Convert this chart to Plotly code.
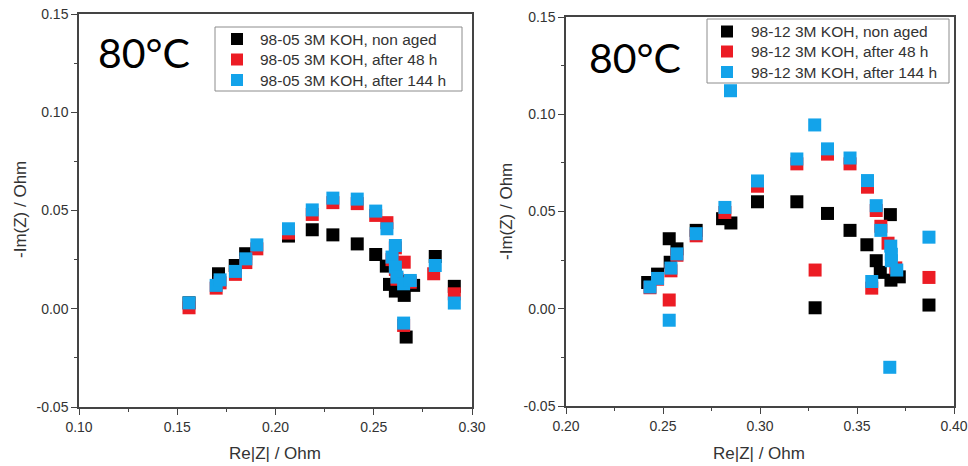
import plotly.graph_objects as go

# ---- Sample 98-05, 3M KOH at 80 °C ----
a_black_re = [0.156, 0.171, 0.1795, 0.1848, 0.2066, 0.2187, 0.2292, 0.2416, 0.251, 0.2564,
              0.258, 0.261, 0.2625, 0.2655, 0.2665, 0.2703, 0.2813, 0.291]
a_black_im = [0.003, 0.0178, 0.022, 0.028, 0.037, 0.0402, 0.0376, 0.033, 0.0276, 0.0217,
              0.0124, 0.009, 0.014, 0.0068, -0.0144, 0.0119, 0.0266, 0.0114]

a_red_re = [0.156, 0.1698, 0.1718, 0.1796, 0.1849, 0.1905, 0.2066, 0.2187, 0.2292, 0.2416,
            0.251, 0.2567, 0.261, 0.2593, 0.261, 0.2618, 0.2655, 0.2686, 0.2652, 0.2805, 0.291]
a_red_im = [0.0005, 0.0105, 0.0132, 0.0175, 0.0235, 0.0305, 0.0385, 0.048, 0.054, 0.0535,
            0.0475, 0.0438, 0.031, 0.025, 0.02, 0.015, 0.0237, 0.0135, -0.0085, 0.0178, 0.0076]

a_blue_re = [0.156, 0.1698, 0.1718, 0.1796, 0.1849, 0.1905, 0.2066, 0.2187, 0.2292, 0.2416,
             0.251, 0.2567, 0.261, 0.2593, 0.261, 0.2618, 0.2652, 0.2686, 0.2652, 0.2813, 0.291]
a_blue_im = [0.003, 0.0119, 0.0147, 0.019, 0.0254, 0.0325, 0.0407, 0.0503, 0.0563, 0.0558,
             0.0497, 0.0407, 0.0322, 0.0263, 0.0212, 0.0161, 0.0127, 0.0144, -0.0073, 0.022, 0.0029]

# ---- Sample 98-12, 3M KOH at 80 °C ----
b_black_re = [0.2421, 0.2472, 0.2532, 0.2572, 0.2537, 0.2671, 0.2807, 0.285, 0.2987, 0.319,
              0.3348, 0.3464, 0.3551, 0.3599, 0.362, 0.3672, 0.3675, 0.3718, 0.3284, 0.3871]
b_black_im = [0.0135, 0.0178, 0.036, 0.0308, 0.0239, 0.0403, 0.0463, 0.0441, 0.055, 0.055,
              0.049, 0.0403, 0.0329, 0.0247, 0.0187, 0.0484, 0.0147, 0.0164, 0.0005, 0.0019]

b_red_re = [0.2433, 0.2472, 0.2541, 0.2572, 0.2532, 0.2671, 0.2819, 0.2987, 0.319, 0.3348,
            0.3464, 0.3554, 0.3599, 0.3623, 0.366, 0.37, 0.3284, 0.3576, 0.3871]
b_red_im = [0.0108, 0.0152, 0.0195, 0.0275, 0.0045, 0.0375, 0.0495, 0.063, 0.0745, 0.0795,
            0.0745, 0.0625, 0.0505, 0.0424, 0.0337, 0.021, 0.0199, 0.0106, 0.0161]

b_blue_re = [0.2433, 0.2472, 0.2541, 0.2572, 0.2532, 0.2671, 0.2819, 0.2848, 0.2987, 0.319,
             0.3282, 0.3348, 0.3464, 0.3554, 0.3599, 0.3623, 0.3674, 0.3677, 0.3677, 0.3705,
             0.3576, 0.3669, 0.3871]
b_blue_im = [0.0112, 0.0156, 0.0209, 0.0282, -0.0059, 0.0386, 0.0521, 0.1121, 0.0657, 0.077,
             0.0945, 0.0822, 0.0775, 0.0659, 0.053, 0.0403, 0.0322, 0.028, 0.0247, 0.0199,
             0.014, -0.0301, 0.0368]

y_ticks = [-0.05, 0.00, 0.05, 0.10, 0.15]
y_ticklabels = ["-0.05", "0.00", "0.05", "0.10", "0.15"]
xa_ticks = [0.10, 0.15, 0.20, 0.25, 0.30]
xa_ticklabels = ["0.10", "0.15", "0.20", "0.25", "0.30"]
xb_ticks = [0.20, 0.25, 0.30, 0.35, 0.40]
xb_ticklabels = ["0.20", "0.25", "0.30", "0.35", "0.40"]

a_names = ["98-05 3M KOH, non aged", "98-05 3M KOH, after 48 h", "98-05 3M KOH, after 144 h"]
b_names = ["98-12 3M KOH, non aged", "98-12 3M KOH, after 48 h", "98-12 3M KOH, after 144 h"]

BLACK = "#000000"
RED = "#ec1c24"
BLUE = "#13a3ea"
COLORS = [BLACK, RED, BLUE]

W, H = 968, 466


def px(x):
    return x / W


def py(y):
    return 1 - y / H


fig = go.Figure()


def add_series(x, y, color, name, xaxis, yaxis):
    fig.add_trace(go.Scatter(
        x=x, y=y, mode="markers", name=name, showlegend=False,
        marker=dict(symbol="square", size=13, color=color, line=dict(width=0)),
        xaxis=xaxis, yaxis=yaxis,
    ))


add_series(a_black_re, a_black_im, BLACK, a_names[0], "x", "y")
add_series(a_red_re, a_red_im, RED, a_names[1], "x", "y")
add_series(a_blue_re, a_blue_im, BLUE, a_names[2], "x", "y")
add_series(b_black_re, b_black_im, BLACK, b_names[0], "x2", "y2")
add_series(b_red_re, b_red_im, RED, b_names[1], "x2", "y2")
add_series(b_blue_re, b_blue_im, BLUE, b_names[2], "x2", "y2")

AXIS_COLOR = "#444444"
TICK_FONT = dict(family="Liberation Sans, Arial", size=14, color="#333333")
LEGEND_FONT = dict(family="Liberation Sans, Arial", size=15.5, color="#333333")


def axis_style(tickvals, ticktext, rng, domain, anchor, minor_dtick):
    return dict(
        range=rng, domain=domain, anchor=anchor, automargin=False,
        tickmode="array", tickvals=tickvals, ticktext=ticktext,
        showgrid=False, zeroline=False,
        showline=True, mirror=True, linecolor=AXIS_COLOR, linewidth=1.5,
        ticks="outside", ticklen=6, tickwidth=1.2, tickcolor=AXIS_COLOR,
        minor=dict(ticks="outside", ticklen=3, tickwidth=1, tickcolor=AXIS_COLOR,
                   dtick=minor_dtick, showgrid=False),
        tickfont=TICK_FONT,
    )


fig.update_layout(
    width=W, height=H,
    margin=dict(l=0, r=0, t=0, b=0, autoexpand=False),
    paper_bgcolor="white", plot_bgcolor="white",
    showlegend=False,
    xaxis=axis_style(xa_ticks, xa_ticklabels, [0.10, 0.30], [px(79), px(472)], "y", 0.025),
    yaxis=axis_style(y_ticks, y_ticklabels, [-0.05, 0.15], [py(407), py(14)], "x", 0.025),
    xaxis2=axis_style(xb_ticks, xb_ticklabels, [0.20, 0.40], [px(566), px(954)], "y2", 0.025),
    yaxis2=axis_style(y_ticks, y_ticklabels, [-0.05, 0.15], [py(406), py(17)], "x2", 0.025),
)

shapes = []
annotations = []


def add_legend(names, box, rows, marker_x, text_x):
    x0, y0, x1, y1 = box
    shapes.append(dict(type="rect", xref="paper", yref="paper",
                       x0=px(x0), x1=px(x1), y0=py(y1), y1=py(y0),
                       line=dict(color="#8c8c8c", width=1), fillcolor="white", layer="above"))
    half = 6
    for name, color, ry in zip(names, COLORS, rows):
        shapes.append(dict(type="rect", xref="paper", yref="paper",
                           x0=px(marker_x - half), x1=px(marker_x + half),
                           y0=py(ry + half), y1=py(ry - half),
                           line=dict(width=0), fillcolor=color, layer="above"))
        annotations.append(dict(text=name, x=px(text_x), y=py(ry), xanchor="left",
                                yanchor="middle", font=LEGEND_FONT))


add_legend(a_names, (215, 27, 462, 91), (39, 59.5, 80), 237, 258)
add_legend(b_names, (707, 19, 949, 83), (31.5, 51.5, 72), 727, 749)

TITLE_FONT = dict(family="Liberation Sans, Arial", size=17, color="#333333")
BIG_FONT = dict(family="Lato, Open Sans", size=41, color="black")

annotations += [
    dict(text="80°C", x=px(96), y=py(53), xanchor="left", yanchor="middle", font=BIG_FONT),
    dict(text="80°C", x=px(587), y=py(57), xanchor="left", yanchor="middle", font=BIG_FONT),
    dict(text="Re|Z| / Ohm", x=px(275), y=py(453), xanchor="center", yanchor="middle", font=TITLE_FONT),
    dict(text="Re|Z| / Ohm", x=px(759), y=py(453), xanchor="center", yanchor="middle", font=TITLE_FONT),
    dict(text="-Im(Z) / Ohm", x=px(20), y=py(210), xanchor="center", yanchor="middle",
         textangle=-90, font=TITLE_FONT),
    dict(text="-Im(Z) / Ohm", x=px(507), y=py(211), xanchor="center", yanchor="middle",
         textangle=-90, font=TITLE_FONT),
]
for a in annotations:
    a.update(xref="paper", yref="paper", showarrow=False)
fig.update_layout(annotations=annotations, shapes=shapes)

fig.write_html("out.html")
